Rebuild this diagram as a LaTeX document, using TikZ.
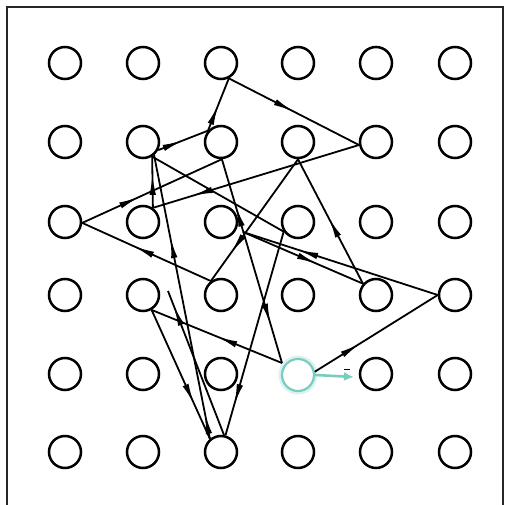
\documentclass[tikz,border=0pt]{standalone}
\usetikzlibrary{arrows.meta,decorations.markings}
\definecolor{tealc}{RGB}{120,205,192}
\begin{document}
\begin{tikzpicture}[x=1pt,y=-1pt,
  dot/.style={circle,draw=black,line width=2.5pt,minimum size=32pt,inner sep=0pt},
  edge/.style={line width=1.8pt,black},
  am/.style={postaction={decorate,decoration={markings,mark=at position #1 with {\arrow{Latex[length=13pt,width=4pt,scale=1.6]}}}}},
  ar/.style={postaction={decorate,decoration={markings,mark=at position #1 with {\arrowreversed{Latex[length=13pt,width=4pt,scale=1.6]}}}}}]
\useasboundingbox (0,0) rectangle (511,505);
% frame
\coordinate (fa) at (7,510);
\coordinate (fb) at (7,7);
\coordinate (fc) at (503,7);
\coordinate (fd) at (503,510);
\draw[line width=1.3pt,black!85] (fa) -- (fb) -- (fc) -- (fd);
% grid
\foreach \r/\y in {1/63,2/142,3/222,4/295,5/374,6/452}{
  \foreach \c/\x in {1/65,2/143,3/221,4/298,5/376,6/455}{
    \ifnum\r\c=54 \else \node[dot] (n\r\c) at (\x,\y) {}; \fi
  }
}
% start node (teal)
\node[dot,draw=tealc,fill=white,line width=2.2pt,preaction={draw=tealc!25,line width=7pt}] (start) at (298,375) {};
% free coordinates
\coordinate (J) at (243,232);
\coordinate (K) at (282,363);
\coordinate (F) at (168,291);
\coordinate (tealtip) at (354,377);
\coordinate (d1) at (344,369.5);
\coordinate (d2) at (350,369.5);
% teal arrow
\draw[line width=2.6pt,tealc,-{Latex[length=10pt,width=9pt]}] (start.east) -- (tealtip);
\draw[line width=1.3pt] (d1) -- (d2);
% path
\draw[edge,am=0.37] (start.11) -- (n46.180);
\draw[edge,am=0.72] (n46.180) -- (J);
\draw[edge,am=0.62] (J) -- (n45.139);
\draw[edge,am=0.53] (n45.139) -- (n24.-90);
\draw[edge,am=0.77] (n24.-90) -- (n43.126);
\draw[edge,am=0.6] (n43.126) -- (n31.-3);
\draw[edge,am=0.41] (n31.-3) -- (n23.-87);
\draw[edge,ar=0.23,am=0.81] (n23.-87) -- (K);
\draw[edge,am=0.5] (K) -- (n42.-60);
\draw[edge,am=0.73] (n42.-60) -- (n63.130);
\draw[edge,am=0.09,am=0.71] (n63.130) -- (n22.-50);
\draw[edge,am=0.5] (n22.-28) -- (n23.139);
\draw[edge,am=0.5] (n23.139) -- (n13.-63);
\draw[edge,am=0.5] (n13.-63) -- (n25.190);
\draw[edge,am=0.81] (n25.190) -- (n32.55);
\draw[edge,am=0.66] (n32.55) -- (n22.-58);
\draw[edge] (n22.-58) -- (n34.-146);
\draw[edge,am=0.85] (n34.-146) -- (n63.75);
\draw[edge,am=0.9] (n63.80) -- (F);
\end{tikzpicture}
\end{document}
